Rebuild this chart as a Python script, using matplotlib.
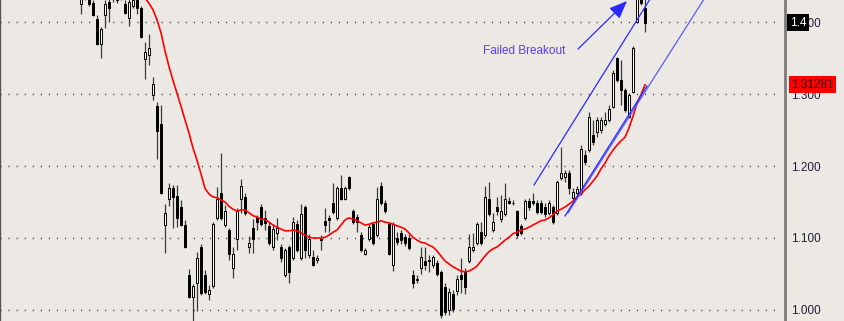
import matplotlib
matplotlib.use("Agg")
import matplotlib.pyplot as plt
import matplotlib.transforms as mtransforms
import numpy as np

# ---- data ----
opens = [1.425,1.444,1.431,1.426,1.404,1.369,1.410,1.428,1.438,1.431,
         1.442,1.425,1.4056,1.422,1.431,1.419,1.349,1.354,1.299,1.283,
         1.258,1.118,1.154,1.169,1.158,1.143,1.118,1.049,1.018,1.0375,
         1.0875,1.049,1.022,1.033,1.128,1.1625,1.118,1.111,1.058,1.099,
         1.154,1.157,1.0875,1.114,1.129,1.143,1.128,1.117,1.0875,1.107,
         1.0875,1.049,1.0875,1.072,1.119,1.072,1.143,1.076,1.074,1.069,
         1.099,1.124,1.128,1.149,1.128,1.169,1.154,1.185,1.1375,1.129,
         1.104,1.078,1.099,1.119,1.104,1.172,1.149,1.119,1.0625,1.100,
         1.107,1.101,1.100,1.049,1.043,1.058,1.068,1.069,1.0625,1.065,
         1.053,1.032,1.000,1.022,1.026,1.049,1.053,1.068,1.083,1.093,
         1.108,1.104,1.154,1.111,1.143,1.126,1.133,1.151,1.149,1.1375,
         1.117,1.128,1.151,1.151,1.149,1.149,1.143,1.135,1.143,1.135,
         1.183,1.185,1.190,1.156,1.163,1.163,1.215,1.222,1.243,1.247,
         1.250,1.258,1.264,1.282,1.350,1.319,1.306,1.268,1.303,1.400,
         1.435,1.419]
closes = [1.436,1.433,1.425,1.410,1.369,1.390,1.425,1.419,1.447,1.435,
          1.436,1.4125,1.428,1.431,1.419,1.379,1.358,1.364,1.314,1.249,
          1.163,1.135,1.169,1.157,1.128,1.118,1.0875,1.018,1.033,1.072,
          1.024,1.025,1.028,1.119,1.154,1.128,1.1375,1.078,1.078,1.1375,
          1.172,1.135,1.093,1.099,1.122,1.119,1.121,1.093,1.1125,1.114,
          1.072,1.083,1.053,1.122,1.083,1.133,1.083,1.099,1.0625,1.072,
          1.097,1.118,1.125,1.136,1.169,1.154,1.169,1.169,1.122,1.122,
          1.083,1.083,1.115,1.093,1.154,1.149,1.1375,1.078,1.119,1.094,
          1.097,1.093,1.086,1.0375,1.042,1.074,1.0625,1.068,1.074,1.050,
          0.993,0.997,1.025,1.001,1.043,1.043,1.032,1.0875,1.0875,1.119,
          1.093,1.157,1.133,1.122,1.1375,1.1375,1.154,1.149,1.148,1.104,
          1.107,1.151,1.143,1.149,1.136,1.136,1.133,1.149,1.122,1.178,
          1.190,1.190,1.169,1.164,1.168,1.224,1.206,1.268,1.233,1.264,
          1.264,1.264,1.279,1.329,1.319,1.306,1.278,1.299,1.364,1.433,
          1.426,1.399]
highs = [1.442,1.451,1.438,1.431,1.410,1.393,1.431,1.435,1.451,1.442,
         1.447,1.431,1.433,1.436,1.435,1.422,1.372,1.383,1.324,1.289,
         1.285,1.147,1.176,1.174,1.174,1.153,1.125,1.057,1.036,1.081,
         1.092,1.056,1.035,1.122,1.171,1.218,1.146,1.114,1.0875,1.142,
         1.182,1.1625,1.103,1.126,1.132,1.147,1.139,1.122,1.119,1.128,
         1.092,1.086,1.090,1.129,1.125,1.147,1.146,1.106,1.083,1.076,
         1.104,1.142,1.132,1.176,1.172,1.1875,1.172,1.186,1.140,1.133,
         1.108,1.086,1.119,1.122,1.171,1.178,1.153,1.122,1.122,1.108,
         1.111,1.106,1.106,1.056,1.049,1.0875,1.0875,1.076,1.076,1.069,
         1.056,1.0375,1.031,1.028,1.049,1.072,1.058,1.106,1.107,1.122,
         1.122,1.172,1.178,1.135,1.157,1.160,1.176,1.157,1.153,1.139,
         1.119,1.154,1.156,1.1625,1.153,1.153,1.149,1.153,1.146,1.181,
         1.226,1.194,1.194,1.169,1.172,1.229,1.222,1.275,1.264,1.268,
         1.268,1.275,1.285,1.333,1.351,1.347,1.308,1.301,1.367,1.438,
         1.439,1.433]
lows = [1.411,1.431,1.422,1.408,1.368,1.350,1.392,1.400,1.428,1.426,
        1.431,1.411,1.394,1.419,1.411,1.378,1.321,1.340,1.292,1.210,
        1.161,1.079,1.144,1.114,1.115,1.117,1.086,1.017,0.985,0.999,
        1.021,1.022,1.014,1.031,1.125,1.125,1.115,1.069,1.044,1.083,
        1.135,1.132,1.079,1.079,1.111,1.117,1.111,1.090,1.083,1.097,
        1.067,1.046,1.0375,1.069,1.081,1.069,1.072,1.072,1.061,1.065,
        1.083,1.108,1.108,1.133,1.125,1.153,1.153,1.167,1.119,1.108,
        1.081,1.076,1.096,1.090,1.101,1.146,1.135,1.076,1.054,1.090,
        1.092,1.089,1.083,1.031,1.0375,1.050,1.056,1.053,1.058,1.047,
        0.989,0.993,0.993,0.997,1.021,1.024,1.022,1.065,1.081,1.090,
        1.090,1.101,1.1305,1.108,1.132,1.122,1.1305,1.147,1.146,1.100,
        1.104,1.125,1.139,1.146,1.133,1.133,1.129,1.132,1.119,1.132,
        1.181,1.178,1.161,1.153,1.158,1.160,1.201,1.219,1.229,1.240,
        1.246,1.256,1.261,1.281,1.317,1.285,1.275,1.267,1.301,1.399,
        1.424,1.386]
moving_avg = [1.470,1.469,1.468,1.467,1.466,1.465,1.463,1.461,1.459,1.457,
              1.455,1.452,1.449,1.447,1.443,1.439,1.433,1.426,1.417,1.403,
              1.385,1.360,1.338,1.319,1.301,1.283,1.264,1.246,1.225,1.208,
              1.189,1.169,1.161,1.157,1.156,1.153,1.150,1.144,1.140,1.1375,
              1.139,1.139,1.135,1.131,1.129,1.126,1.126,1.122,1.118,1.115,
              1.1125,1.110,1.110,1.111,1.110,1.107,1.104,1.101,1.100,1.100,
              1.100,1.101,1.104,1.108,1.111,1.118,1.125,1.128,1.126,1.124,
              1.121,1.118,1.119,1.121,1.122,1.124,1.122,1.121,1.119,1.117,
              1.115,1.1125,1.107,1.101,1.097,1.094,1.093,1.090,1.0875,1.082,
              1.075,1.068,1.064,1.060,1.057,1.054,1.053,1.054,1.057,1.061,
              1.068,1.075,1.081,1.085,1.0875,1.092,1.097,1.101,1.106,1.108,
              1.111,1.1125,1.115,1.118,1.121,1.124,1.125,1.128,1.132,1.1375,
              1.140,1.143,1.147,1.151,1.157,1.161,1.167,1.172,1.179,1.186,
              1.196,1.204,1.214,1.222,1.229,1.235,1.240,1.253,1.269,1.287,
              1.299,1.3128]

price_ticks = [1.000, 1.100, 1.200, 1.300, 1.400]
tick_labels = ["1.000", "1.100", "1.200", "1.300", "1.400"]

# annotation lines (bar index, price)
upper_channel_x = [113.25, 142.75]
upper_channel_y = [1.1737, 1.4362]
lower_channel_x = [121.75, 156.25]
lower_channel_y = [1.1348, 1.4362]
lower_short_x = [121.0, 141.5]
lower_short_y = [1.1306, 1.3112]
arrow_start = (124.25, 1.3625)
arrow_end = (136.5, 1.4292)
note_text = "Failed Breakout"
note_pos = (100.5, 1.3598)
last_close_label = "1.4"
last_close_price = 1.3993
ma_label = "1.31281"
ma_price = 1.31281

# ---- drawing ----
W, H, DPI = 845, 321, 100
bg = "#ece9e4"
fig = plt.figure(figsize=(W / DPI, H / DPI), dpi=DPI, facecolor=bg)
ax = fig.add_axes([0, 0, 785 / W, 1], facecolor=bg)

n = len(opens)
x = np.arange(n)
o = np.array(opens); c = np.array(closes)
hi = np.array(highs); lo = np.array(lows)

ax.vlines(x, lo, hi, color="#3a3a3a", linewidth=0.9, zorder=3)
up = c >= o
bottoms = np.minimum(o, c)
heights = np.abs(c - o)
ax.bar(x[up], heights[up], bottom=bottoms[up], width=0.72,
       facecolor="white", edgecolor="black", linewidth=0.7, zorder=4)
ax.bar(x[~up], heights[~up], bottom=bottoms[~up], width=0.72,
       facecolor="black", edgecolor="black", linewidth=0.7, zorder=4)

ax.plot(x, moving_avg, color="#ff0000", linewidth=1.2, zorder=5)

ax.plot(upper_channel_x, upper_channel_y, color="#2a2aff", linewidth=0.9, zorder=6)
ax.plot(lower_channel_x, lower_channel_y, color="#5a5aff", linewidth=0.9, zorder=6)
ax.plot(lower_short_x, lower_short_y, color="#2a2aff", linewidth=0.9, zorder=6)
ax.annotate("", xy=arrow_end, xytext=arrow_start,
            arrowprops=dict(arrowstyle="-|>,head_length=1.1,head_width=0.45",
                            color="#2a2aff", linewidth=0.9, shrinkA=0, shrinkB=0),
            zorder=7)
ax.text(note_pos[0], note_pos[1], note_text, color="#5a3cf0", fontsize=8.5,
        family="Liberation Sans", ha="left", va="center", zorder=7)

ax.set_xlim(-20.25, 176.0)
ax.set_ylim(0.9847, 1.4306)

for p in price_ticks:
    ax.axhline(p, xmin=0, xmax=0.99, color="#3c3c3c", linewidth=1.0,
               linestyle=(0, (0.8, 5.0)), zorder=1)

ax.yaxis.tick_right()
ax.set_yticks(price_ticks)
ax.set_yticklabels(tick_labels)
ax.tick_params(axis="y", length=0, pad=4, labelsize=8.5, labelcolor="#1e1e38")
for lab in ax.get_yticklabels():
    lab.set_family("Liberation Sans")
ax.set_xticks([])
for s in ["top", "bottom"]:
    ax.spines[s].set_visible(False)
ax.spines["right"].set_color("#7a7a7a")
ax.spines["right"].set_linewidth(2.0)
ax.spines["left"].set_color("#555555")
ax.spines["left"].set_linewidth(1.0)

trans = mtransforms.blended_transform_factory(ax.transAxes, ax.transData)
ax.text(1.006, last_close_price, last_close_label, transform=trans, color="white",
        fontsize=8.5, family="Liberation Sans", ha="left", va="center",
        bbox=dict(boxstyle="square,pad=0.2", facecolor="black", edgecolor="none"),
        zorder=10, clip_on=False)
ax.text(1.008, ma_price, ma_label, transform=trans, color="#1a0000",
        fontsize=8.5, family="Liberation Sans", ha="left", va="center",
        bbox=dict(boxstyle="square,pad=0.2", facecolor="#ff0000", edgecolor="none"),
        zorder=10, clip_on=False)

fig.savefig("out.png", dpi=DPI, facecolor=bg)
